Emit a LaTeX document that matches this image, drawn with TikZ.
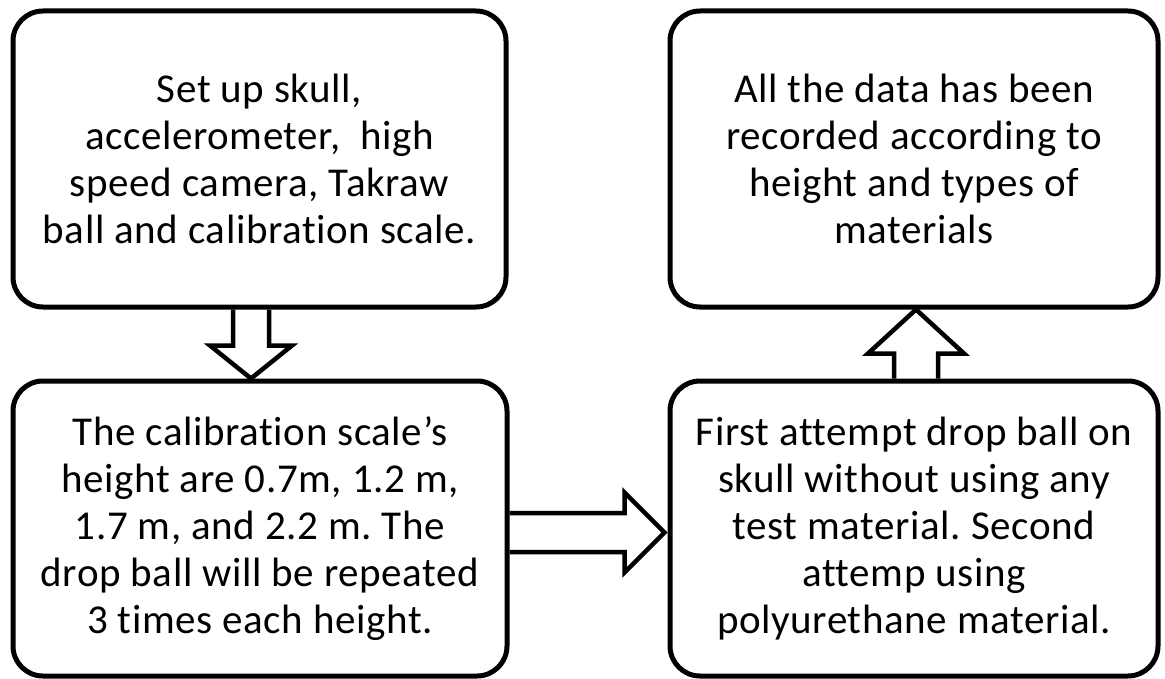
\documentclass[tikz,border=0pt]{standalone}
\usepackage{fontspec}
\setmainfont{Carlito}[Ligatures={NoCommon}, LetterSpace=1.5]
\usetikzlibrary{calc,backgrounds}
\frenchspacing
\tikzset{
  stepbox/.style={draw=black, line width=5pt, rounded corners=30pt,
    align=center, inner sep=0pt,
    font=\fontsize{41}{46.8}\selectfont},
  blockarrow/.style={draw=black, fill=white, line width=4.5pt, line join=miter}
}
\begin{document}
\begin{tikzpicture}[x=1pt,y=-1pt]
\useasboundingbox (0,0) rectangle (1165,679);

% four process steps
\node[stepbox, minimum width=493pt, minimum height=296pt] (setup) at (259.5,159)
  {Set up skull,\\accelerometer, \ high\\speed camera, Takraw\\ball and calibration scale.};
\node[stepbox, minimum width=494pt, minimum height=295pt] (heights) at (260,528.5)
  {The calibration scale’s\\height are 0.7m, 1.2 m,\\1.7 m, and 2.2 m. The\\drop ball will be repeated\\3 times each height.};
\node[stepbox, minimum width=488pt, minimum height=295pt] (attempts) at (914,528.5)
  {First attempt drop ball on\\skull without using any\\test material. Second\\attemp using\\polyurethane material.};
\node[stepbox, minimum width=488pt, minimum height=296pt] (recorded) at (914,159)
  {All the data has been\\recorded according to\\height and types of\\materials};

% hollow block arrows between the steps
\begin{pgfonlayer}{background}
  % setup -> heights
  \coordinate (d0) at ($(setup.south)+(-8.5,0)$);
  \draw[blockarrow] ($(d0)+(-18,0)$) -- ($(d0)+(-18,36)$) -- ($(d0)+(-41,36)$)
    -- (d0 |- heights.north) -- ($(d0)+(41,36)$) -- ($(d0)+(18,36)$) -- ($(d0)+(18,0)$);
  % heights -> attempts
  \coordinate (r0) at ($(heights.east)+(0,4)$);
  \draw[blockarrow] ($(r0)+(0,-19.5)$) -- ($(r0)+(115,-19.5)$) -- ($(r0)+(115,-40)$)
    -- ($(r0)+(155,0)$) -- ($(r0)+(115,40)$) -- ($(r0)+(115,19.5)$) -- ($(r0)+(0,19.5)$);
  % attempts -> recorded
  \coordinate (u0) at ($(attempts.north)+(2,0)$);
  \draw[blockarrow] ($(u0)+(-22,0)$) -- ($(u0)+(-22,-25)$) -- ($(u0)+(-48,-25)$)
    -- (u0 |- recorded.south) -- ($(u0)+(48,-25)$) -- ($(u0)+(22,-25)$) -- ($(u0)+(22,0)$);
\end{pgfonlayer}
\end{tikzpicture}
\end{document}
